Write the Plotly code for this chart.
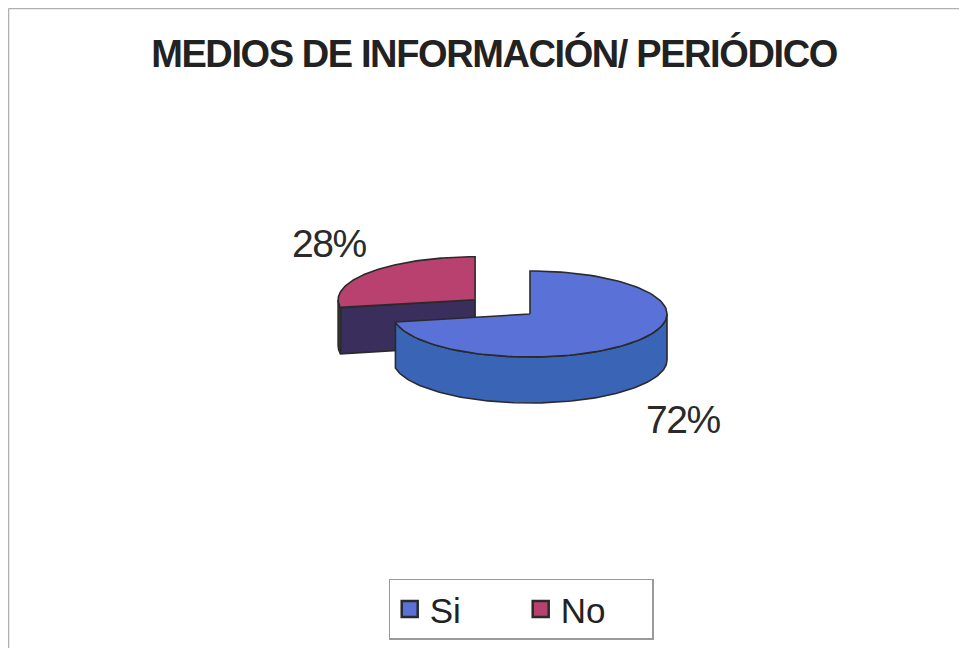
import numpy as np
import plotly.graph_objects as go

# ---- data ----
labels = ["Si", "No"]
values = [72, 28]
pct_text = ["72%", "28%"]
title_text = "MEDIOS DE INFORMACIÓN/ PERIÓDICO"

# ---- style / geometry (page pixel coordinates) ----
top_colors = {"Si": "#5a72d8", "No": "#b8416f"}
side_colors = {"Si": "#3a64b6", "No": "#3a2e5c"}
edge = "#2a2a2a"
CX, CY = 530, 314      # centre of the un-exploded slice
RX, RY = 137, 43       # ellipse radii
DEPTH = 46
EXPLODE = {"Si": 0.0, "No": 0.52}

W, H = 967, 648
OFF = 8                # page body margin
FW, FH = W - OFF, H - OFF

def px(x):
    return (x - OFF) / FW

def py(y):
    return 1 - (y - OFF) / FH

def pt(cx, cy, ang_deg, dz=0.0):
    a = np.radians(ang_deg)
    return cx + RX * np.cos(a), cy - RY * np.sin(a) + dz

def arc(cx, cy, a0, a1, dz=0.0, n=120):
    angs = np.linspace(a0, a1, n)
    xs = cx + RX * np.cos(np.radians(angs))
    ys = cy - RY * np.sin(np.radians(angs)) + dz
    return list(xs), list(ys)

total = sum(values)
slices = []
start = 90.0
for lab, v in zip(labels, values):
    sweep = 360.0 * v / total
    end = start - sweep
    mid = (start + end) / 2
    e = EXPLODE[lab]
    cx = CX + e * RX * np.cos(np.radians(mid))
    cy = CY - e * RY * np.sin(np.radians(mid))
    slices.append(dict(label=lab, a_hi=start, a_lo=end, cx=cx, cy=cy))
    start = end

fig = go.Figure()

def poly(xs, ys, color):
    fig.add_trace(go.Scatter(
        x=xs + [xs[0]], y=ys + [ys[0]], mode="lines", fill="toself",
        fillcolor=color, line=dict(color=edge, width=1.6),
        hoverinfo="skip", showlegend=False))

for s in sorted(slices, key=lambda s: EXPLODE[s["label"]], reverse=True):
    lab, cx, cy = s["label"], s["cx"], s["cy"]
    lo, hi = s["a_lo"], s["a_hi"]
    # radial faces that point toward the viewer
    for a_edge, normal in ((hi, hi + 90), (lo, lo - 90)):
        if np.sin(np.radians(normal)) < -1e-6:
            x1, y1 = pt(cx, cy, a_edge)
            poly([cx, x1, x1, cx], [cy, y1, y1 + DEPTH, cy + DEPTH], side_colors[lab])
    # front part of the outer wall
    for k in (-360, 0, 360):
        f0, f1 = max(lo + k, 180), min(hi + k, 360)
        if f1 > f0:
            tx, ty = arc(cx, cy, f0, f1)
            bx, by = arc(cx, cy, f1, f0, dz=DEPTH)
            poly(tx + bx, ty + by, side_colors[lab])
    # top face
    ax_, ay_ = arc(cx, cy, hi, lo)
    poly([cx] + ax_, [cy] + ay_, top_colors[lab])

# legend entries
for lab in labels:
    fig.add_trace(go.Scatter(
        x=[None], y=[None], mode="markers", name=lab,
        marker=dict(symbol="square", size=16, color=top_colors[lab],
                    line=dict(color=edge, width=2.5))))

# percentage labels
label_pos = {"No": (329, 243), "Si": (683, 419)}
for lab, t in zip(labels, pct_text):
    x, y = label_pos[lab]
    fig.add_annotation(x=x, y=y, text='<span style="letter-spacing:-1.5px">' + t + "</span>",
                       showarrow=False,
                       font=dict(family="Liberation Sans, Arial", size=39, color="#2a2a2a"),
                       xanchor="center", yanchor="middle")

# frame lines (scan border)
fig.add_shape(type="line", xref="x", yref="y", x0=8.5, y0=8.5, x1=W, y1=8.5,
              line=dict(color="#b0b0b0", width=1.5))
fig.add_shape(type="line", xref="x", yref="y", x0=8.5, y0=8.5, x1=8.5, y1=H,
              line=dict(color="#b0b0b0", width=1.5))

fig.update_layout(
    width=FW, height=FH, autosize=False,
    margin=dict(l=0, r=0, t=0, b=0),
    paper_bgcolor="white", plot_bgcolor="white",
    xaxis=dict(range=[OFF, W], visible=False, fixedrange=True),
    yaxis=dict(range=[H, OFF], visible=False, fixedrange=True),
    title=dict(
        text='<span style="letter-spacing:-1.4px">' + title_text + "</span>",
        x=px(494), xanchor="center", y=py(54), yanchor="middle",
        font=dict(family="Liberation Sans, Arial", size=38, color="#222222", weight="bold")),
    legend=dict(orientation="h", x=px(521), xanchor="center", y=py(609), yanchor="middle",
                bordercolor="#9a9a9a", borderwidth=1.2, bgcolor="white",
                font=dict(family="Liberation Sans, Arial", size=35, color="#222222"),
                itemwidth=30, entrywidthmode="pixels", entrywidth=86),
    showlegend=True,
)

fig.write_html("out.html")
